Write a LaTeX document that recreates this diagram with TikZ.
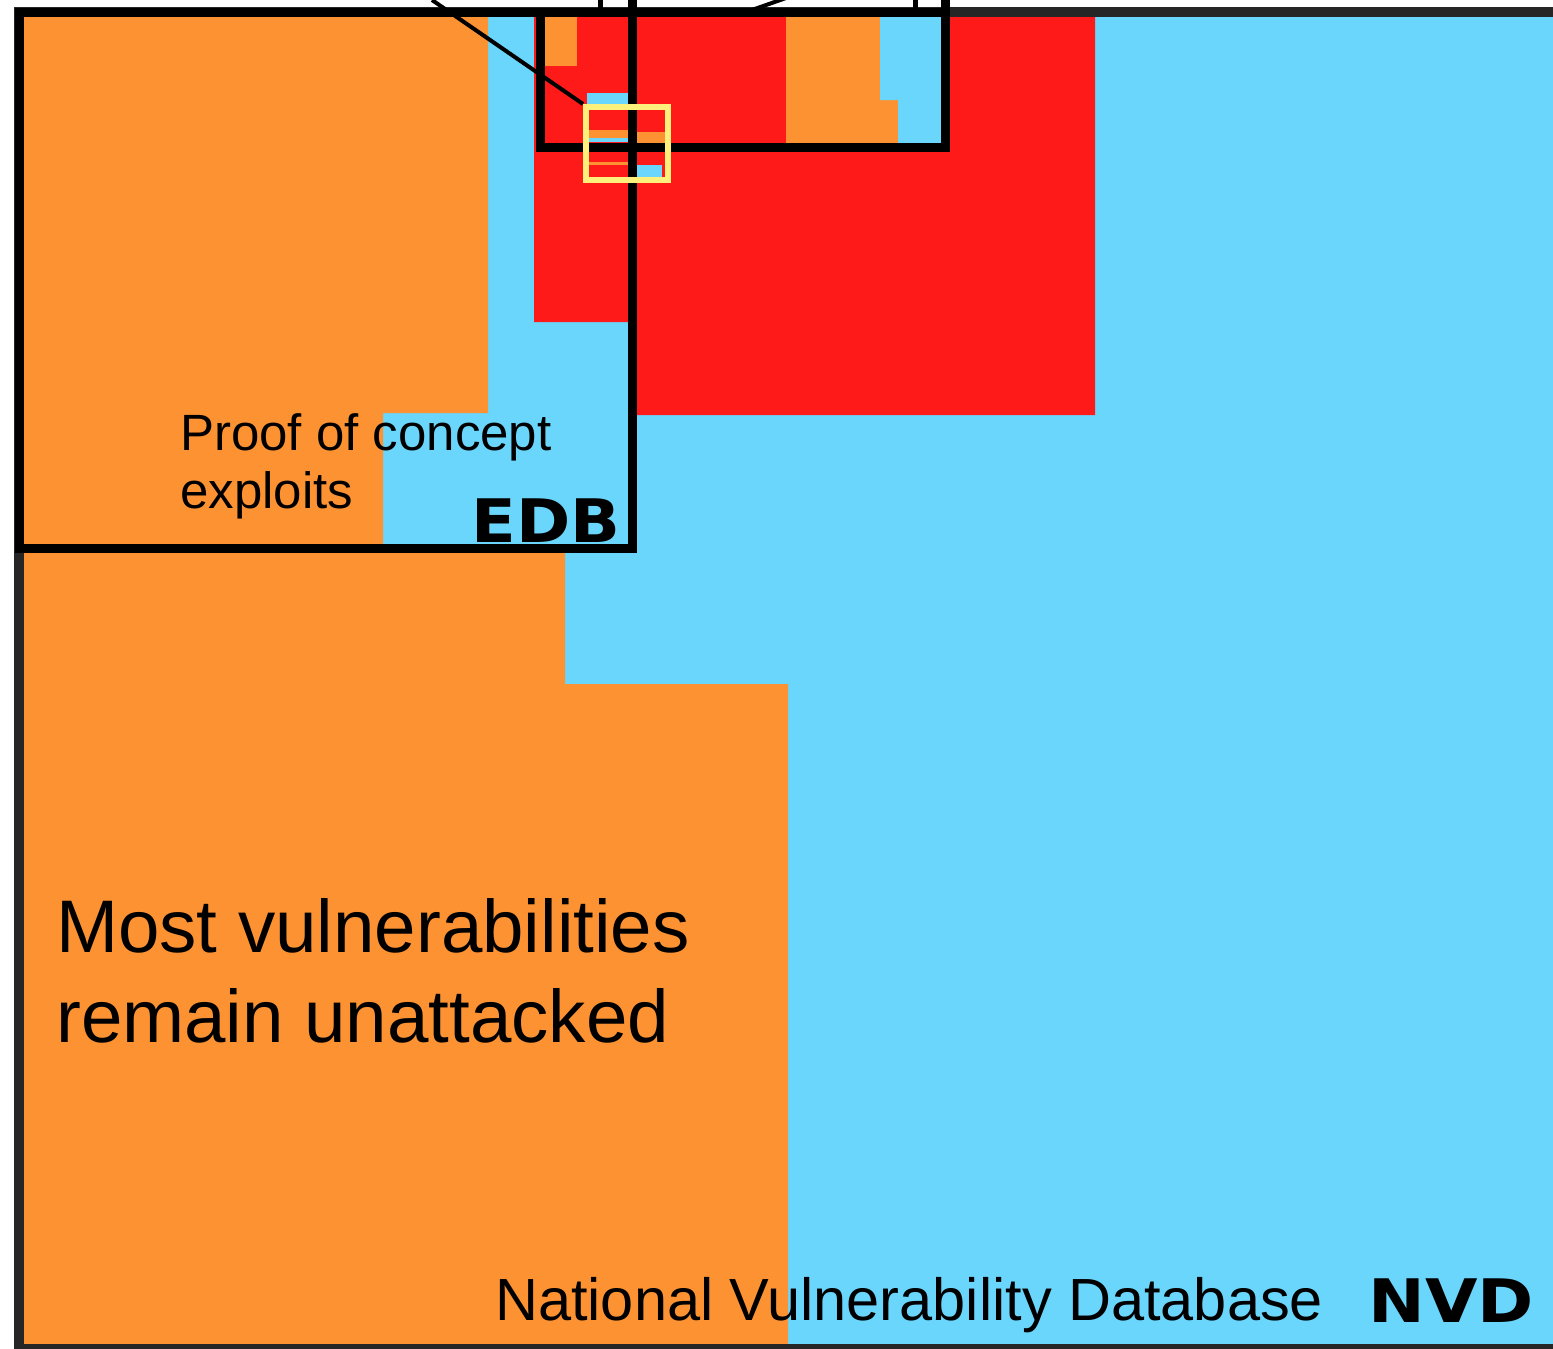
\documentclass[tikz,border=0pt]{standalone}
\usepackage{fontspec}
\setmainfont{Liberation Sans}
\newfontfamily\tagfont{DejaVu Sans}
\usepackage{graphicx}
\definecolor{vorange}{HTML}{FD9232}
\definecolor{vred}{HTML}{FF1A1A}
\definecolor{vblue}{HTML}{6AD6FC}
\definecolor{vgray}{HTML}{262626}
\definecolor{vyellow}{HTML}{FFF07C}
\tikzset{
  frameline/.style={draw=black, line width=9pt, line join=miter},
  nvdline/.style={draw=vgray, line width=10pt},
  thinline/.style={draw=black, line width=5pt},
  zoombox/.style={draw=vyellow, line width=6pt},
  plaintext/.style={anchor=base west, inner sep=0pt, text=black},
  tagtext/.style={anchor=base east, inner sep=0pt, text=black, font=\tagfont\bfseries\fontsize{60}{60}\selectfont}
}
\begin{document}
\begin{tikzpicture}[x=1pt,y=-1pt]
\useasboundingbox (0,0) rectangle (1553,1349);
\clip (0,0) rectangle (1553,1349);
\fill[white] (0,0) rectangle (1553,1349);
% base blue
\fill[vblue] (19,12) rectangle (1553,1349);
% orange region
\fill[vorange] (19,12) -- (488,12) -- (488,413) -- (383,413) -- (383,548) -- (565,548)
  -- (565,684) -- (788,684) -- (788,1349) -- (19,1349) -- cycle;
% red region
\fill[vred] (534,12) -- (1095,12) -- (1095,415) -- (632,415) -- (632,322) -- (534,322) -- cycle;
% inner box contents
\fill[vorange] (540,12) rectangle (577,66);
\fill[vorange] (786,12) -- (880,12) -- (880,100) -- (898,100) -- (898,147) -- (786,147) -- cycle;
\fill[vblue] (880,12) -- (945,12) -- (945,147) -- (898,147) -- (898,100) -- (880,100) -- cycle;
\fill[vblue] (587,93) rectangle (630,105);
% inside the zoom box
\fill[vorange] (585,130) rectangle (630,138);
\fill[vblue] (585,138) rectangle (630,142);
\fill[vorange] (632,132) rectangle (665,143);
\fill[vorange] (585,162) rectangle (630,165);
\fill[vblue] (636,165) rectangle (662,177);
% NVD frame
\draw[nvdline] (1560,12) -- (19,12) -- (19,1349) -- (1560,1349);
% EDB frame
\draw[frameline] (632,0) -- (632,548) -- (19,548) -- (19,12) -- (632,12);
% inner frame
\draw[frameline] (540,12) -- (540,147) -- (945,147) -- (945,0);
\draw[frameline] (540,12) -- (945,12);
% lines leaving the top edge
\coordinate (topA) at (600,0);
\coordinate (topB) at (600,12);
\coordinate (topC) at (915,0);
\coordinate (topD) at (915,12);
\draw[thinline] (topA) -- (topB);
\draw[thinline] (topC) -- (topD);
\coordinate (curveA) at (752,10);
\coordinate (curveB) at (786,-2);
\draw[black, line width=4pt] (curveA) -- (curveB);
% zoom box and its leader
\node[zoombox, minimum width=82pt, minimum height=73pt, inner sep=0pt, anchor=north west] (zoom) at (583,104) {};
\coordinate (lead) at (432,0);
\draw[black, line width=4pt] (lead) -- (zoom.north west);
% texts
\node[plaintext, font=\fontsize{51}{61}\selectfont] (poc1) at (180,450) {Proof of concept};
\node[plaintext, font=\fontsize{51}{61}\selectfont] (poc2) at (180,508) {exploits};
\node[plaintext, font=\fontsize{74.5}{90}\selectfont] (most1) at (56,952) {Most vulnerabilities};
\node[plaintext, font=\fontsize{74.5}{90}\selectfont] (most2) at (56,1042) {remain unattacked};
\node[plaintext, font=\fontsize{59.5}{70}\selectfont] (nvdname) at (495,1320) {National Vulnerability Database};
\node[tagtext] (edb) at (621,542) {\scalebox{1.09}[1]{EDB}};
\node[tagtext] (nvd) at (1534,1322) {\scalebox{1.13}[1]{NVD}};
\end{tikzpicture}
\end{document}
